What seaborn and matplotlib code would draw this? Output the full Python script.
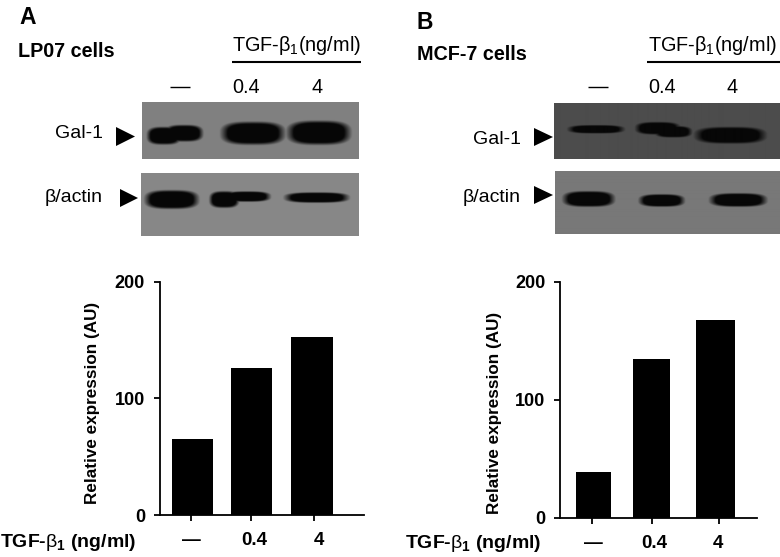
import numpy as np
import pandas as pd
import seaborn as sns
import matplotlib
matplotlib.use("Agg")
import matplotlib.pyplot as plt
from matplotlib.patches import Polygon
from matplotlib.transforms import ScaledTranslation

sns.set_theme(style="ticks")
plt.rcParams["font.family"] = ["Liberation Sans", "DejaVu Sans"]
plt.rcParams["mathtext.fontset"] = "custom"
plt.rcParams["mathtext.rm"] = "Liberation Sans"
plt.rcParams["mathtext.bf"] = "Liberation Sans:bold"
plt.rcParams["mathtext.it"] = "Liberation Sans:italic"

W, H = 780, 557

# ---- data ----
doses = ["—", "0.4", "4"]
lp07_values = [64.9, 125.7, 152.3]
mcf7_values = [38.6, 134.3, 167.3]
y_ticks = [0, 100, 200]
y_label = "Relative expression (AU)"

# ---- layout (pixels) ----
lp07_axes_px = (159.5, 281.7, 364, 515)
mcf7_axes_px = (560, 281.7, 756.7, 518)
lp07_xlim = (-0.547, 2.873)
mcf7_xlim = (-0.542, 2.669)
lp07_bar_centers = [0.0, 0.993, 2.0]
lp07_bar_widths = [0.686, 0.691, 0.697]
mcf7_bar_centers = [0.0, 0.952, 2.0]
mcf7_bar_widths = [0.571, 0.594, 0.642]
lp07_tick_pos = [-0.02, 0.983, 2.03]
mcf7_tick_pos = [-0.024, 0.955, 2.054]
lp07_label_shift_px = [0, 3, 5]
mcf7_label_shift_px = [2, 3, -1]

# blot panels: (x0, y0, x1, y1, background grey)
blot_panels = [
    (142.3, 102, 359.3, 159, 0.50),
    (141, 172.7, 359, 235.7, 0.53),
    (553.7, 103, 780, 158.7, 0.30),
    (555, 172, 780, 234.3, 0.47),
]
# bands in each panel: (x0, x1, y0, y1)
blot_bands = [
    [(148, 180, 127, 144), (166, 202, 125, 141), (223, 283, 122, 144), (289, 349, 121, 144)],
    [(146, 197, 190, 208), (210, 238, 191, 207), (225, 269, 191, 201), (286, 347, 192, 202)],
    [(569, 622, 125, 133), (636, 678, 122, 134), (655, 690, 126, 137), (696, 763, 127, 143)],
    [(564, 613, 192, 207), (640, 683, 195, 207), (711, 765, 194, 207)],
]
# arrowheads: (x left, x tip, y top, y bottom)
arrowheads = [
    (116, 135, 127, 146),
    (120, 138, 189, 207),
    (534, 553, 128, 146),
    (534, 553, 186, 204),
]


def px_rect(x0, y0, x1, y1):
    return [x0 / W, 1 - y1 / H, (x1 - x0) / W, (y1 - y0) / H]


def bar_chart(fig, rect, xlim, values, centers, widths, tick_pos, shifts):
    ax = fig.add_axes(px_rect(*rect))
    df = pd.DataFrame({"dose": doses, "value": values})
    sns.barplot(data=df, x="dose", y="value", order=doses, color="black",
                saturation=1, ax=ax, linewidth=0, err_kws={"linewidth": 0})
    for bar, c, w in zip(ax.patches, centers, widths):
        bar.set_x(c - w / 2)
        bar.set_width(w)
    ax.set_xlim(*xlim)
    ax.set_ylim(0, 200)
    ax.set_yticks(y_ticks)
    ax.set_xticks(tick_pos)
    ax.set_xticklabels(doses)
    ax.set_xlabel("")
    ax.set_ylabel("")
    ax.set_facecolor("none")
    sns.despine(ax=ax)
    for s in ("left", "bottom"):
        ax.spines[s].set_linewidth(1.3)
        ax.spines[s].set_color("black")
    ax.tick_params(axis="y", length=4, width=1.3, pad=6.5, labelsize=13, color="black", labelcolor="black")
    ax.tick_params(axis="x", length=4.5, width=1.3, pad=8, labelsize=13.5, color="black", labelcolor="black")
    for lab in ax.get_xticklabels() + ax.get_yticklabels():
        lab.set_fontweight("bold")
    for lab, s in zip(ax.get_xticklabels(), shifts):
        lab.set_transform(lab.get_transform() + ScaledTranslation(s / 100, 0, fig.dpi_scale_trans))
    return ax


fig = plt.figure(figsize=(W / 100, H / 100), dpi=100, facecolor="white")

bar_chart(fig, lp07_axes_px, lp07_xlim, lp07_values, lp07_bar_centers, lp07_bar_widths,
          lp07_tick_pos, lp07_label_shift_px)
bar_chart(fig, mcf7_axes_px, mcf7_xlim, mcf7_values, mcf7_bar_centers, mcf7_bar_widths,
          mcf7_tick_pos, mcf7_label_shift_px)

# overlay in pixel coordinates for blots and annotations
ov = fig.add_axes([0, 0, 1, 1], facecolor="none")
ov.set_axis_off()

for (x0, y0, x1, y1, bg), bands in zip(blot_panels, blot_bands):
    xs = np.arange(x0, x1, 0.5)
    ys = np.arange(y0, y1, 0.5)
    xx, yy = np.meshgrid(xs, ys)
    dark = np.zeros_like(xx)
    for bx0, bx1, by0, by1 in bands:
        dx = np.abs(xx - (bx0 + bx1) / 2) / ((bx1 - bx0) / 2)
        dy = np.abs(yy - (by0 + by1) / 2) / ((by1 - by0) / 2)
        r = (dx ** 3 + dy ** 3) ** (1 / 3)
        dark = np.maximum(dark, np.clip((1.12 - r) / 0.28, 0, 1))
    img = bg + (0.03 - bg) * dark
    ov.imshow(img, extent=(x0, x1, y1, y0), cmap="gray", vmin=0, vmax=1,
              aspect="auto", interpolation="bilinear", zorder=1)

for xl, xt, yt, yb in arrowheads:
    ov.add_patch(Polygon([(xl, yt), (xt, (yt + yb) / 2), (xl, yb)], closed=True,
                         facecolor="black", edgecolor="none", zorder=3))

ov.plot([232, 361], [62, 62], color="black", lw=1.5, solid_capstyle="butt")
ov.plot([647, 780], [62, 62], color="black", lw=1.5, solid_capstyle="butt")
ov.plot([170, 190], [87, 87], color="black", lw=1.0, solid_capstyle="butt")
ov.plot([588, 608], [87, 87], color="black", lw=1.0, solid_capstyle="butt")
ov.set_xlim(0, W)
ov.set_ylim(H, 0)


def t(x, y, s, size, weight="normal", ha="left", **kw):
    ov.text(x, y, s, fontsize=size, fontweight=weight, ha=ha, va="baseline", color="black", **kw)


t(19, 24, "A", 16.5, "bold")
t(417, 29, "B", 16.5, "bold")
t(18, 57, "LP07 cells", 14.2, "bold")
t(417, 60, "MCF-7 cells", 14.2, "bold")

tgf_plain = r"TGF-$\mathrm{\beta_1}$(ng/ml)"
tgf_bold = r"TGF-$\mathrm{\beta}_{\mathbf{1}}$ (ng/ml)"
t(232, 51, tgf_plain, 14.3)
t(648, 51, tgf_plain, 14.3)
t(246, 93, "0.4", 14.3, ha="center")
t(317, 93, "4", 14.3, ha="center")
t(662, 93, "0.4", 14.3, ha="center")
t(732, 93, "4", 14.3, ha="center")
t(103, 138, "Gal-1", 14, ha="right")
t(103, 202, "β/actin", 14, ha="right")
t(521, 144, "Gal-1", 14, ha="right")
t(521, 202, "β/actin", 14, ha="right")

t(0, 547, tgf_bold, 14, "bold")
t(405, 548, tgf_bold, 14, "bold")

ov.text(93, 402.5, y_label, rotation=90, fontsize=12.3, fontweight="bold",
        ha="center", va="center", color="black")
ov.text(495, 412.5, y_label, rotation=90, fontsize=12.3, fontweight="bold",
        ha="center", va="center", color="black")

fig.savefig("out.png", dpi=100)
